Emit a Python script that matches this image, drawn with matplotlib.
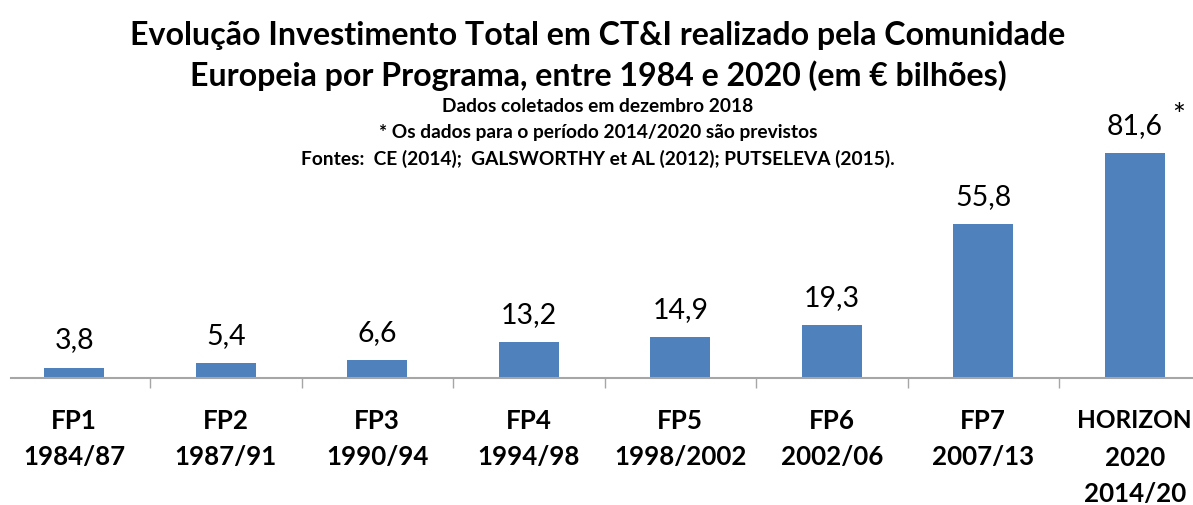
import matplotlib
matplotlib.use("Agg")
import matplotlib.pyplot as plt

programs = ["FP1", "FP2", "FP3", "FP4", "FP5", "FP6", "FP7", "HORIZON\n2020"]
periods = ["1984/87", "1987/91", "1990/94", "1994/98", "1998/2002", "2002/06", "2007/13", "2014/20"]
values = [3.8, 5.4, 6.6, 13.2, 14.9, 19.3, 55.8, 81.6]
value_labels = ["3,8", "5,4", "6,6", "13,2", "14,9", "19,3", "55,8", "81,6"]

title = ("Evolução Investimento Total em CT&I realizado pela Comunidade\n"
         "Europeia por Programa, entre 1984 e 2020 (em € bilhões)")
notes = ["Dados coletados em dezembro 2018",
         "* Os dados para o período 2014/2020 são previstos",
         "Fontes:  CE (2014);  GALSWORTHY et AL (2012); PUTSELEVA (2015)."]

W, H = 1193, 505
DPI = 100
plt.rcParams['font.family'] = ['Lato', 'DejaVu Sans']

fig = plt.figure(figsize=(W / DPI, H / DPI), dpi=DPI)
fig.patch.set_facecolor("white")

# axes: from x=11px to right edge; axis line at y=378px, top at 0px
cat_px = 151.5
x0_px = -1.5  # left boundary of first category in pixels
ax_left_px, ax_right_px = 11, W
axis_y_px = 378
ax = fig.add_axes([ax_left_px / W, (H - axis_y_px) / H,
                   (ax_right_px - ax_left_px) / W, axis_y_px / H])
xl = -0.5 + (ax_left_px - x0_px) / cat_px
xr = -0.5 + (ax_right_px - x0_px) / cat_px
ax.set_xlim(xl, xr)
px_per_unit = 2.757
ax.set_ylim(0, axis_y_px / px_per_unit)

xs = list(range(len(values)))
ax.bar(xs, values, width=60 / cat_px, color="#4F81BD", zorder=2)

for x, v, lab in zip(xs, values, value_labels):
    ax.annotate(lab, (x, v), xytext=(0, 19), textcoords="offset pixels",
                ha="center", va="baseline", fontsize=20.5, color="black")
# asterisk for last bar
ax.annotate("*", (xs[-1], values[-1]), xytext=(44, 28), textcoords="offset pixels",
            ha="center", va="baseline", fontsize=22, color="black")

for s in ["top", "right", "left"]:
    ax.spines[s].set_visible(False)
ax.spines["bottom"].set_color("#A6A6A6")
ax.spines["bottom"].set_linewidth(1.5)
ax.set_yticks([])
ax.set_xticks([i + 0.5 for i in range(len(values) - 1)])
ax.set_xticklabels([])
ax.tick_params(axis="x", direction="out", length=7.2, width=1.0, color="#A6A6A6")
ax.set_facecolor("none")

# category labels
line_h = 36.5
for x, p, per in zip(xs, programs, periods):
    lines = p.split("\n") + [per]
    for k, t in enumerate(lines):
        fs = 17.6 if len(t) > 6 and t.isalpha() else 18.6
        ax.annotate(t, (x, 0), xytext=(0, -(419 - axis_y_px) - k * line_h),
                    textcoords="offset pixels", ha="center", va="center_baseline",
                    fontsize=fs, fontweight="bold", color="black",
                    annotation_clip=False)

# title
t1, t2 = title.split("\n")
fig.text(598 / W, 1 - 33 / H, t1, ha="center", va="center_baseline",
         fontsize=23.1, fontweight="bold", color="black")
fig.text(598 / W, 1 - 73 / H, t2, ha="center", va="center_baseline",
         fontsize=23.1, fontweight="bold", color="black")
for k, n in enumerate(notes):
    fig.text(598 / W, 1 - (105 + 26 * k) / H, n, ha="center", va="center_baseline",
             fontsize=13.8, fontweight="bold", color="black")

fig.savefig("out.png", dpi=DPI, facecolor="white")
